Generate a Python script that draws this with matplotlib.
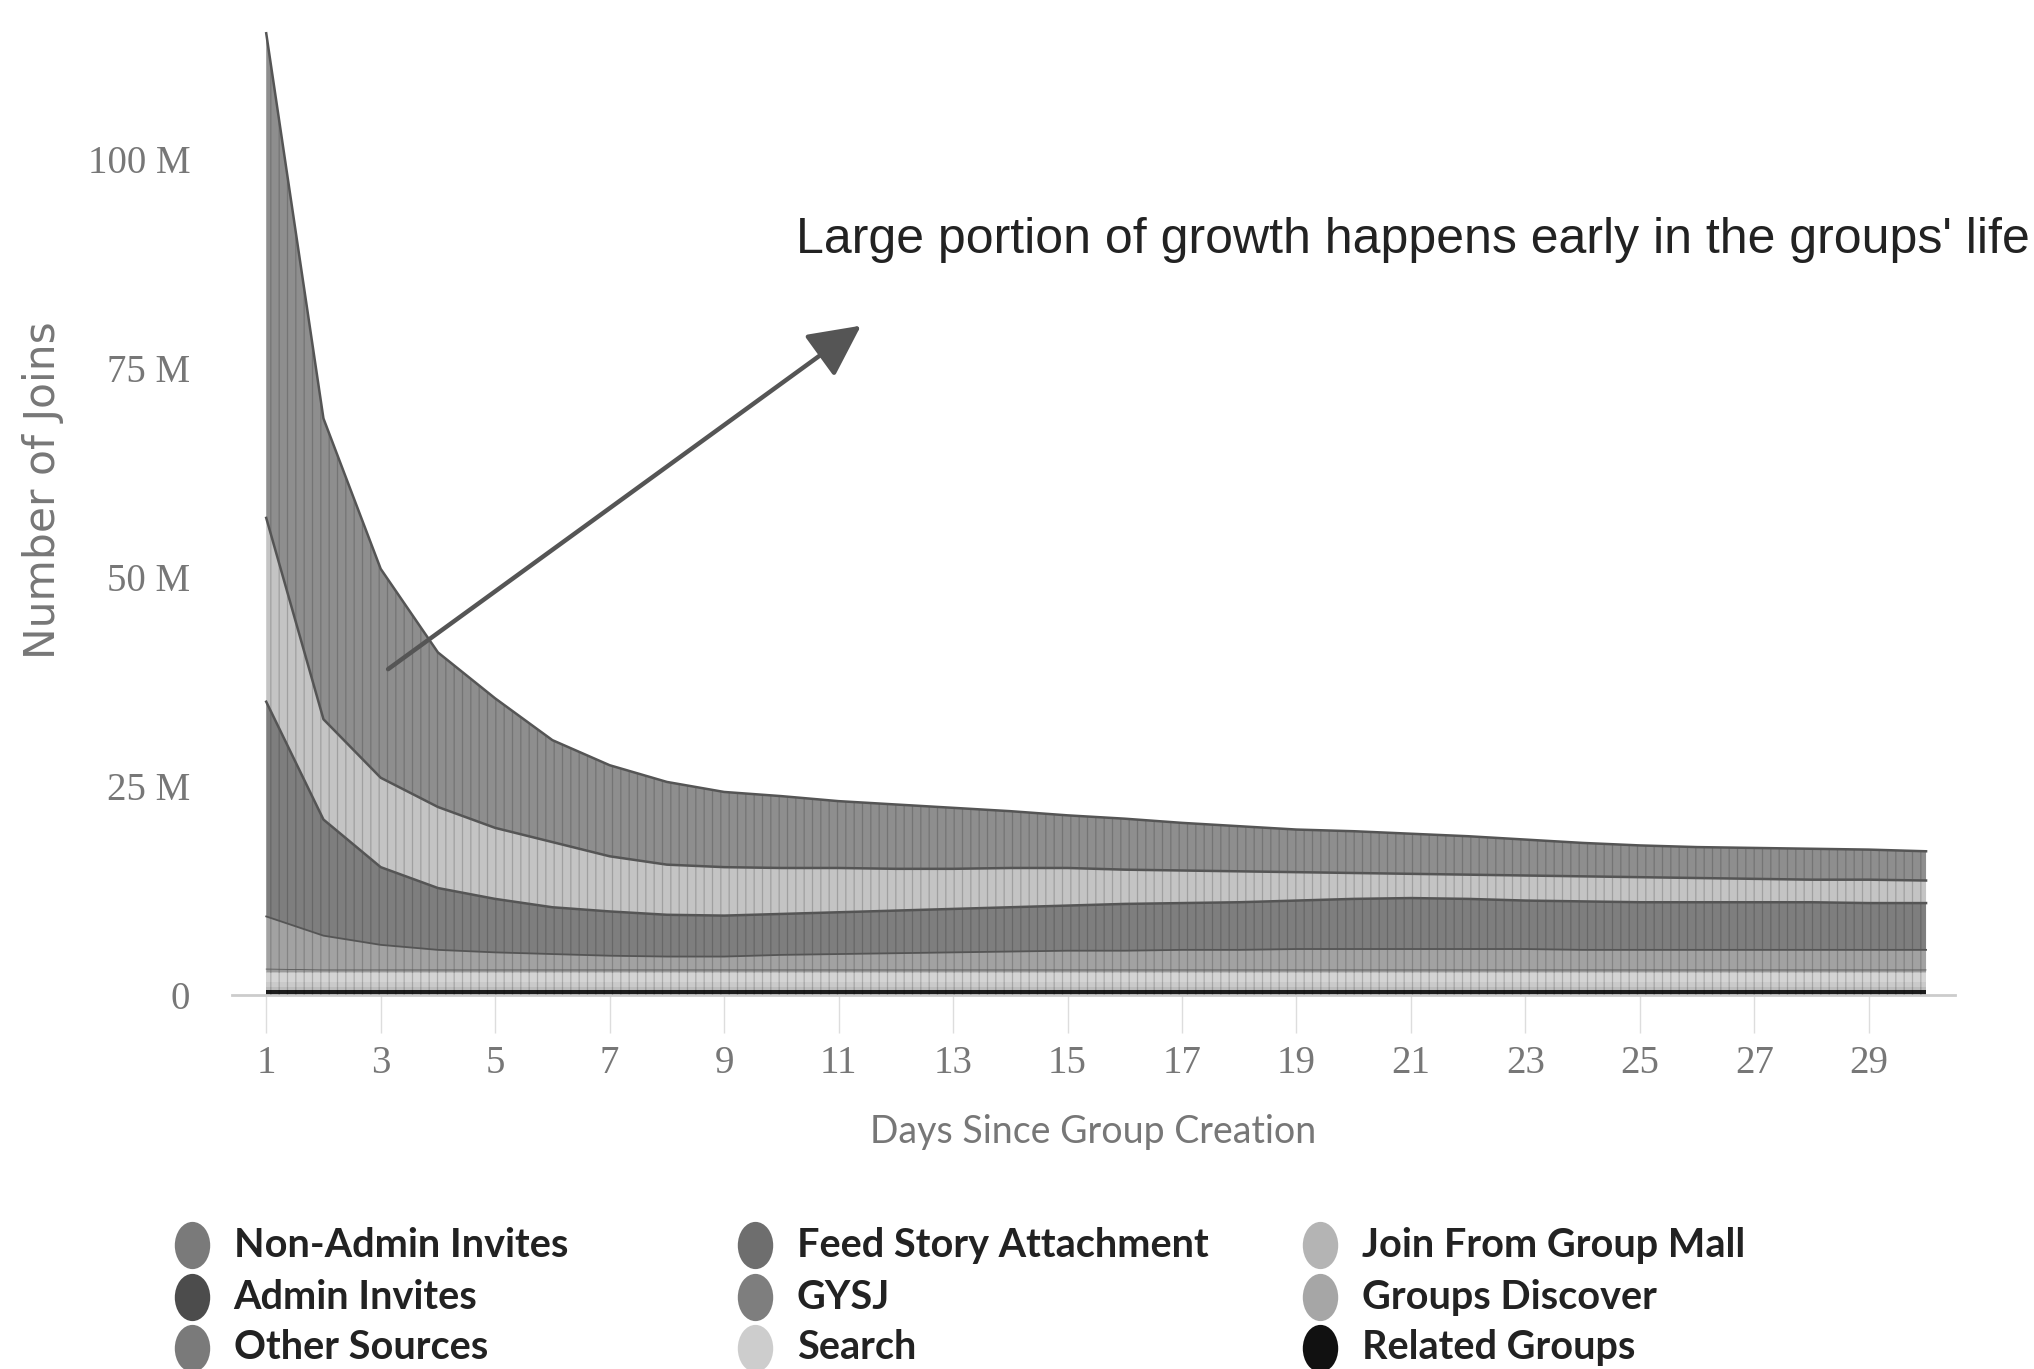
import numpy as np
import matplotlib
matplotlib.use("Agg")
import matplotlib.pyplot as plt
from matplotlib.markers import MarkerStyle
from matplotlib.transforms import Affine2D

# 数据（单位：百万）
days = list(range(1, 31))

series_names = ["Non-Admin Invites", "Admin Invites", "Other Sources",
                "Feed Story Attachment", "GYSJ", "Search",
                "Join From Group Mall", "Groups Discover", "Related Groups"]

non_admin = [58, 36, 25, 18.5, 15.5, 12.2, 10.9, 9.9, 9.0, 8.6, 8.0, 7.7, 7.3, 6.8, 6.3,
             6.1, 5.7, 5.4, 5.1, 5.0, 4.8, 4.6, 4.3, 4.0, 3.8, 3.7, 3.7, 3.7, 3.6, 3.5]
admin = [22, 12, 10.7, 9.7, 8.5, 7.8, 6.6, 6.0, 5.8, 5.5, 5.3, 5.0, 4.8, 4.7, 4.5,
         4.1, 3.9, 3.7, 3.4, 3.1, 2.9, 2.9, 3.0, 3.0, 3.0, 2.9, 2.8, 2.7, 2.8, 2.7]
other = [25.7, 13.9, 9.3, 7.4, 6.4, 5.6, 5.3, 5.0, 4.9, 4.9, 5.0, 5.1, 5.2, 5.3, 5.4,
         5.6, 5.6, 5.7, 5.8, 6.0, 6.1, 6.0, 5.8, 5.8, 5.7, 5.7, 5.7, 5.7, 5.6, 5.6]
feed = [6.3, 4.1, 3.0, 2.4, 2.1, 1.9, 1.7, 1.6, 1.6, 1.8, 1.9, 2.0, 2.1, 2.2, 2.3,
        2.3, 2.4, 2.4, 2.5, 2.5, 2.5, 2.5, 2.5, 2.4, 2.4, 2.4, 2.4, 2.4, 2.4, 2.4]
gysj = [0.4, 0.3, 0.3, 0.3, 0.3, 0.3, 0.3, 0.3, 0.3, 0.3, 0.3, 0.3, 0.3, 0.3, 0.3,
        0.3, 0.3, 0.3, 0.3, 0.3, 0.3, 0.3, 0.3, 0.3, 0.3, 0.3, 0.3, 0.3, 0.3, 0.3]
search = [1.2, 1.2, 1.2, 1.2, 1.2, 1.2, 1.2, 1.2, 1.2, 1.2, 1.2, 1.2, 1.2, 1.2, 1.2,
          1.2, 1.2, 1.2, 1.2, 1.2, 1.2, 1.2, 1.2, 1.2, 1.2, 1.2, 1.2, 1.2, 1.2, 1.2]
group_mall = [0.5, 0.5, 0.5, 0.5, 0.5, 0.5, 0.5, 0.5, 0.5, 0.5, 0.5, 0.5, 0.5, 0.5, 0.5,
              0.5, 0.5, 0.5, 0.5, 0.5, 0.5, 0.5, 0.5, 0.5, 0.5, 0.5, 0.5, 0.5, 0.5, 0.5]
discover = [0.4, 0.4, 0.4, 0.4, 0.4, 0.4, 0.4, 0.4, 0.4, 0.4, 0.4, 0.4, 0.4, 0.4, 0.4,
            0.4, 0.4, 0.4, 0.4, 0.4, 0.4, 0.4, 0.4, 0.4, 0.4, 0.4, 0.4, 0.4, 0.4, 0.4]
related = [0.6, 0.6, 0.6, 0.6, 0.6, 0.6, 0.6, 0.6, 0.6, 0.6, 0.6, 0.6, 0.6, 0.6, 0.6,
           0.6, 0.6, 0.6, 0.6, 0.6, 0.6, 0.6, 0.6, 0.6, 0.6, 0.6, 0.6, 0.6, 0.6, 0.6]

y_ticks = [0, 25, 50, 75, 100]
y_tick_labels = ["0", "25 M", "50 M", "75 M", "100 M"]
x_ticks = list(range(1, 30, 2))

note = "Large portion of growth happens early in the groups' life"

# 颜色
fill_colors = ["#8e8e8e", "#c4c4c4", "#7e7e7e", "#a2a2a2", "#9a9a9a",
               "#d4d4d4", "#cacaca", "#bcbcbc", "#1c1c1c"]
legend_colors = ["#7a7a7a", "#4c4c4c", "#7a7a7a", "#6e6e6e", "#7e7e7e",
                 "#cdcdcd", "#b4b4b4", "#a6a6a6", "#111111"]
# 分界线（只给大层画）
edge_lw = [1.8, 1.8, 1.8, 1.3, 0.6, 0, 0, 0, 0]

plt.rcParams['hatch.linewidth'] = 0.9

fig = plt.figure(figsize=(20.34, 13.69), dpi=100)
ax = fig.add_axes([0.114, 0.2732, 0.847, 0.708])

layers = [non_admin, admin, other, feed, gysj, search, group_mall, discover, related]
x = np.array(days)
base = np.zeros(len(days))
# 从下往上堆叠
for i in range(len(layers) - 1, -1, -1):
    vals = np.array(layers[i]) * 1e6
    top = base + vals
    ax.fill_between(x, base, top, facecolor=fill_colors[i], linewidth=0, zorder=2)
    ax.fill_between(x, base, top, facecolor="none", edgecolor=(0, 0, 0, 0.18),
                    hatch="||", linewidth=0, zorder=3)
    if edge_lw[i] > 0:
        ax.plot(x, top, color="#555555", lw=edge_lw[i], zorder=4)
    base = top

ax.set_xlim(0.4, 30.5)
ax.set_ylim(0, 116e6)

ax.set_yticks([v * 1e6 for v in y_ticks])
ax.set_yticklabels(y_tick_labels)
ax.set_xticks(x_ticks)
ax.set_xticklabels([str(d) for d in x_ticks])

for s in ["top", "right", "left"]:
    ax.spines[s].set_visible(False)
ax.spines["bottom"].set_color("#cccccc")
ax.spines["bottom"].set_linewidth(2)

ax.tick_params(axis="y", length=0, pad=30, labelsize=28, labelcolor="#777777")
ax.tick_params(axis="x", length=27, width=1, color="#dddddd", pad=9,
               labelsize=28, labelcolor="#777777")
for t in ax.get_yticklabels():
    t.set_family(["Liberation Serif", "DejaVu Serif"])
for t in ax.get_xticklabels():
    t.set_family(["Liberation Serif", "DejaVu Serif"])

ax.set_xlabel("Days Since Group Creation", fontsize=27, color="#777777",
              family=["Lato", "DejaVu Sans"], labelpad=23)
fig.text(0.0211, 0.642, "Number of Joins", rotation=90, ha="center", va="center",
         fontsize=30.5, color="#777777", family=["DejaVu Sans"])

# 箭头和说明
ax.annotate("", xy=(11.43, 80.3e6), xytext=(3.09, 38.8e6),
            arrowprops=dict(arrowstyle="-|>,head_length=0.8,head_width=0.4",
                            color="#555555", lw=3.2, mutation_scale=40),
            zorder=6)
fig.text(0.3914, 0.8247, note, ha="left", va="center", fontsize=36,
         color="#222222", family=["Liberation Sans", "DejaVu Sans"])

# 图例
lax = fig.add_axes([0, 0, 1, 1])
lax.set_xlim(0, 1)
lax.set_ylim(0, 1)
lax.axis("off")
col_x = [0.0944, 0.3712, 0.649]
row_y = [0.0905, 0.0525, 0.0155]
oval = MarkerStyle("o", transform=Affine2D().scale(0.75, 1.0))
for i, name in enumerate(series_names):
    cx = col_x[i // 3]
    cy = row_y[i % 3]
    lax.plot([cx], [cy], marker=oval, markersize=34, color=legend_colors[i],
             markeredgewidth=0)
    lax.text(cx + 0.0205, cy, name, ha="left", va="center", fontsize=28.5,
             color="#222222", fontweight="bold",
             family=["Lato", "DejaVu Sans"])

plt.savefig("out.png", dpi=100)
